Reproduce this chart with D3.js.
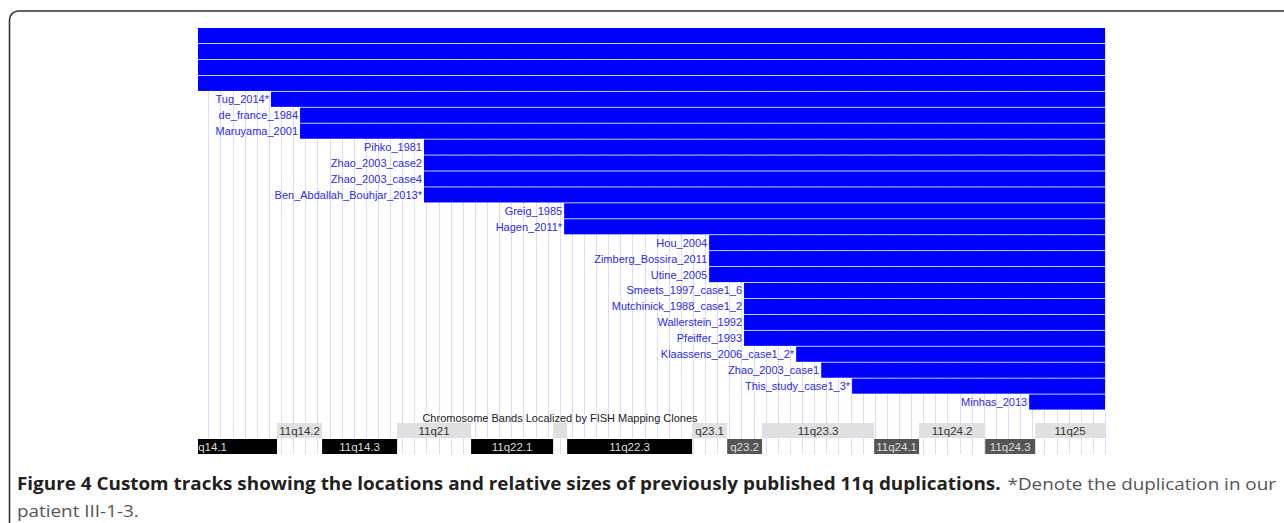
<!DOCTYPE html>
<html>
<head>
<meta charset="utf-8">
<script src="https://cdn.jsdelivr.net/npm/d3@7"></script>
<style>
  body { margin: 0; background: #fff; }
  svg { display: block; }
</style>
</head>
<body>
<div id="chart"></div>
<script>
// duplication tracks, top to bottom (first four have their labels off the left edge)
const studies = ['', '', '', '',
  'Tug_2014*', 'de_france_1984', 'Maruyama_2001', 'Pihko_1981',
  'Zhao_2003_case2', 'Zhao_2003_case4', 'Ben_Abdallah_Bouhjar_2013*',
  'Greig_1985', 'Hagen_2011*', 'Hou_2004', 'Zimberg_Bossira_2011',
  'Utine_2005', 'Smeets_1997_case1_6', 'Mutchinick_1988_case1_2',
  'Wallerstein_1992', 'Pfeiffer_1993', 'Klaassens_2006_case1_2*',
  'Zhao_2003_case1', 'This_study_case1_3*', 'Minhas_2013'];
// start of each duplication (Mb on chr11), all run to the telomere
const dupStart = [76.0, 76.0, 76.0, 76.0,
  85.07, 86.81, 86.81, 94.23,
  94.23, 94.23, 94.23,
  102.62, 102.62, 111.30, 111.30,
  111.30, 113.39, 113.39,
  113.39, 113.39, 116.51,
  118.01, 119.86, 130.46];
const dupEnd = 135.0;

// cytogenetic bands
const bandNames  = ['11q14.1', '11q14.2', '11q14.3', '11q21', '11q22.1', '', '11q22.3',
  'q23.1', 'q23.2', '11q23.3', '11q24.1', '11q24.2', '11q24.3', '11q25'];
const bandStarts = [77.0, 85.43, 88.13, 92.62, 97.05, 101.96, 102.80,
  110.28, 112.38, 114.47, 121.18, 123.87, 127.83, 130.82];
const bandEnds   = [85.43, 88.13, 92.62, 97.05, 101.96, 102.80, 110.28,
  112.38, 114.47, 121.18, 123.87, 127.83, 130.82, 135.0];
const bandStain  = ['gpos100', 'gpos25', 'gpos100', 'gpos25', 'gpos100', 'gpos25', 'gpos100',
  'gpos25', 'gpos75', 'gpos25', 'gpos75', 'gpos25', 'gpos75', 'gpos25'];

const trackTitle = 'Chromosome Bands Localized by FISH Mapping Clones';
const captionBold = 'Figure 4 Custom tracks showing the locations and relative sizes of previously published 11q duplications.';
const captionRest = ['*Denote the duplication in our', 'patient III-1-3.'];
const gridStep = 0.7254;

const svgWidth = 1284;
const svgHeight = 523;

const svg = d3.select('#chart')
  .append('svg')
    .attr('width', svgWidth)
    .attr('height', svgHeight);

// figure frame
svg.append('rect')
    .attr('x', 9.5)
    .attr('y', 11)
    .attr('width', 1300)
    .attr('height', 560)
    .attr('rx', 9)
    .attr('fill', 'none')
    .attr('stroke', '#333')
    .attr('stroke-width', 1.6);

const xScale = d3.scaleLinear()
    .domain([80.7, 135.0])
    .range([198, 1105]);

const yScale = d3.scaleBand()
    .domain(studies.map((d, i) => i))
    .range([28, 28 + 24 * 15.9])
    .paddingInner(0.05);

svg.append('clipPath').attr('id', 'clip')
  .append('rect')
    .attr('x', 198).attr('y', 0)
    .attr('width', 1105 - 198 + 1).attr('height', svgHeight);

const g = svg.append('g').attr('clip-path', 'url(#clip)');

// vertical guide lines
g.selectAll('.grid').data(d3.range(81.32, 135.05, gridStep))
  .enter().append('line')
    .attr('x1', d => Math.round(xScale(d)) + 0.5)
    .attr('x2', d => Math.round(xScale(d)) + 0.5)
    .attr('y1', 28)
    .attr('y2', 454)
    .attr('stroke', '#dcdcfa')
    .attr('stroke-width', 1);

// duplication bars
const rows = studies.map((name, i) => ({ name, i, start: dupStart[i], end: dupEnd }));

g.selectAll('.dup').data(rows)
  .enter().append('rect')
    .attr('x', d => xScale(d.start))
    .attr('y', d => yScale(d.i))
    .attr('width', d => xScale(d.end) - xScale(d.start))
    .attr('height', yScale.bandwidth())
    .attr('fill', '#0000ff');

svg.selectAll('.dupLabel').data(rows.filter(d => d.name))
  .enter().append('text')
    .attr('x', d => xScale(d.start) - 2)
    .attr('y', d => yScale(d.i) + yScale.bandwidth() / 2 + 4)
    .attr('text-anchor', 'end')
    .attr('font-family', 'Liberation Sans, Arial, sans-serif')
    .attr('font-size', 11)
    .attr('fill', '#2a2aee')
    .text(d => d.name);

// band track
svg.append('text')
    .attr('x', 560)
    .attr('y', 422)
    .attr('text-anchor', 'middle')
    .attr('font-family', 'Liberation Sans, Arial, sans-serif')
    .attr('font-size', 11)
    .attr('fill', '#222')
    .text(trackTitle);

const bands = bandNames.map((name, i) => ({
  name, start: bandStarts[i], end: bandEnds[i], stain: bandStain[i]
}));
const fillOf = { gpos100: '#000', gpos75: '#555', gpos25: '#e0e0e0' };
const textOf = { gpos100: '#ddd', gpos75: '#ddd', gpos25: '#333' };
const rowOf = s => s === 'gpos25' ? 423 : 439;

const bandG = g.selectAll('.band').data(bands)
  .enter().append('g');

bandG.append('rect')
    .attr('x', d => xScale(d.start))
    .attr('y', d => rowOf(d.stain))
    .attr('width', d => xScale(d.end) - xScale(d.start))
    .attr('height', 15)
    .attr('fill', d => fillOf[d.stain]);

bandG.append('text')
    .attr('x', d => (xScale(d.start) + xScale(d.end)) / 2)
    .attr('y', d => rowOf(d.stain) + 12)
    .attr('text-anchor', 'middle')
    .attr('font-family', 'Liberation Sans, Arial, sans-serif')
    .attr('font-size', 11.5)
    .attr('fill', d => textOf[d.stain])
    .text(d => d.name);

// caption: bold lead then regular text, fitted to the line width
const capLeft = 17, capRight = 1276;
const bold = svg.append('text')
    .attr('x', capLeft)
    .attr('y', 490)
    .attr('font-family', 'Open Sans, sans-serif')
    .attr('font-size', 17)
    .attr('font-weight', 'bold')
    .attr('fill', '#231f20')
    .text(captionBold);
const rest = svg.append('text')
    .attr('y', 490)
    .attr('font-family', 'Open Sans, sans-serif')
    .attr('font-size', 17)
    .attr('fill', '#555')
    .text(captionRest[0]);

const bw = bold.node().getComputedTextLength();
const rw = rest.node().getComputedTextLength();
const gap = 7;
const k = (capRight - capLeft - gap) / (bw + rw);
bold.attr('textLength', bw * k).attr('lengthAdjust', 'spacingAndGlyphs');
rest.attr('x', capLeft + bw * k + gap)
    .attr('textLength', rw * k).attr('lengthAdjust', 'spacingAndGlyphs');

const line2 = svg.append('text')
    .attr('x', capLeft)
    .attr('y', 517)
    .attr('font-family', 'Open Sans, sans-serif')
    .attr('font-size', 17)
    .attr('fill', '#555')
    .text(captionRest[1]);
line2.attr('textLength', line2.node().getComputedTextLength() * k)
    .attr('lengthAdjust', 'spacingAndGlyphs');
</script>
</body>
</html>
